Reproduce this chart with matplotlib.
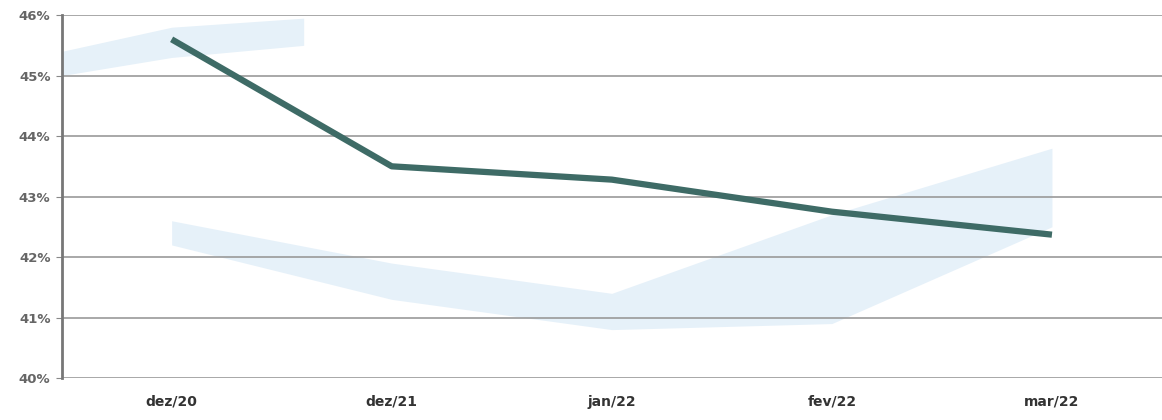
import numpy as np
import matplotlib.pyplot as plt
from matplotlib.ticker import FuncFormatter

months = ["dez/20", "dez/21", "jan/22", "fev/22", "mar/22"]
rate = [45.6, 43.5, 43.28, 42.75, 42.37]

# faint blue background swoosh (decorative), read at each category
band_top = [42.6, 41.9, 41.4, 42.7, 43.8]
band_bottom = [42.2, 41.3, 40.8, 40.9, 42.5]
yticks = [40, 41, 42, 43, 44, 45, 46]

fig = plt.figure(figsize=(11.62, 4.2), dpi=100)
ax = fig.add_axes([0.053, 0.10, 0.947, 0.864])

x = np.arange(len(months))
ax.fill_between(x, band_bottom, band_top, color="#d6e8f6", alpha=0.6, lw=0, zorder=0)
ax.fill_between([-0.5, 0, 0.6], [45.0, 45.3, 45.5], [45.4, 45.8, 45.95],
                color="#e6f1f9", lw=0, zorder=0)

for v in yticks:
    ax.axhline(v, color="#9a9a9a", lw=1.2, zorder=1)

ax.plot(x, rate, color="#3e6b66", lw=4.5, solid_capstyle="butt", zorder=3)

ax.set_xlim(-0.5, len(months) - 0.5)
ax.set_ylim(40, 46)
ax.set_yticks(yticks)
ax.yaxis.set_major_formatter(FuncFormatter(lambda v, p: f"{v:.0f}%"))
ax.set_xticks(x)
ax.set_xticklabels(months)
for lbl in ax.get_xticklabels():
    lbl.set_fontweight("bold")
    lbl.set_color("#333333")
    lbl.set_fontsize(10)
for lbl in ax.get_yticklabels():
    lbl.set_fontweight("bold")
    lbl.set_color("#666666")
    lbl.set_fontsize(9.5)

ax.tick_params(axis="x", length=0, pad=12)
ax.tick_params(axis="y", length=4, color="#888888", pad=4)
for s in ["top", "right", "bottom"]:
    ax.spines[s].set_visible(False)
ax.spines["left"].set_color("#777777")
ax.spines["left"].set_linewidth(2)

fig.savefig("out.png", dpi=100)
